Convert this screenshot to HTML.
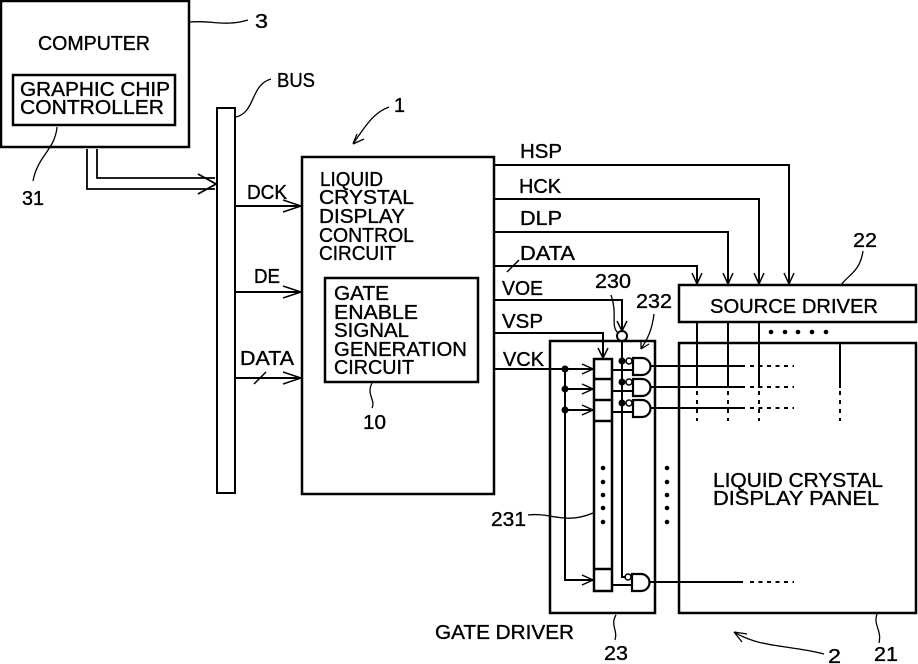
<!DOCTYPE html>
<html><head><meta charset="utf-8"><style>
html,body{margin:0;padding:0;background:#fff}
svg{display:block}
text{font-family:"Liberation Sans",sans-serif;font-size:20px;fill:#000;stroke:#000;stroke-width:.35}
</style></head><body>
<svg width="918" height="664" viewBox="0 0 918 664" xmlns="http://www.w3.org/2000/svg">
<g fill="none" stroke="#000" stroke-width="2">
<rect x="1" y="1" width="188" height="146" stroke-width="2.5"/>
<rect x="13" y="75" width="162" height="50" stroke-width="2.5"/>
<rect x="217" y="108" width="18" height="385"/>
<rect x="302" y="157" width="192" height="337" stroke-width="2.5"/>
<rect x="325" y="278" width="153" height="104" stroke-width="2.5"/>
<rect x="679" y="285" width="237" height="37" stroke-width="2.5"/>
<path d="M679 613V343H916V613Z" stroke-width="2.5"/>
<path d="M550 613V341H655V613Z" stroke-width="2.5"/>
<rect x="594" y="359" width="18" height="232" stroke-width="2.5"/>
<path d="M594 379H612M594 400H612M594 421H612M594 569H612" stroke-width="2.5"/>
<!-- bus input -->
<path d="M97 149V178H215M87 149V189H215M198 174L216 184L198 194" stroke-width="1.8"/>
<!-- left signals -->
<path d="M235 206H301M235 292H301M235 378H301"/>
<path d="M283 200L301 206L283 212M283 286L301 292L283 298M283 372L301 378L283 384" stroke-width="1.5"/>
<path d="M254 384L266 372" stroke-width="1.5"/>
<!-- top signals -->
<path d="M494 165H789V284M494 199H759V284M494 232H728V284M494 266H697V284"/>
<path d="M784 273L789 284L794 273M754 273L759 284L764 273M723 273L728 284L733 273M692 273L697 284L702 273" stroke-width="1.5"/>
<path d="M507 272L519 260" stroke-width="1.5"/>
<!-- VOE VSP VCK -->
<path d="M494 300H622V331M494 333H603V358M494 369H593"/>
<path d="M617 321L622 331L627 321M598 348L603 358L608 348" stroke-width="1.5"/>
<circle cx="622" cy="336" r="5"/>
<path d="M622 341V577H626"/>
<path d="M565 369V580H593M565 389H593M565 410H593"/>
<path d="M582 364L593 369L582 374M582 384L593 389L582 394M582 405L593 410L582 415M582 575L593 580L582 585" stroke-width="1.5"/>
<!-- gates -->
<path d="M633 358H642A8.500 8.500 0 0 1 642 375H633ZM633 379H642A8.500 8.500 0 0 1 642 396H633ZM633 400H642A8.500 8.500 0 0 1 642 417H633ZM632 574H641A8.500 8.500 0 0 1 641 591H632Z" stroke-width="2.2"/>
<circle cx="629" cy="361" r="3" stroke-width="1.5"/><circle cx="629" cy="382" r="3" stroke-width="1.5"/><circle cx="629" cy="403" r="3" stroke-width="1.5"/><circle cx="628" cy="577" r="3" stroke-width="1.5"/>
<path d="M612 370H633M612 391H633M612 412H633M612 585H632"/>
<path d="M651 366H745M651 387H745M651 408H745M650 582H743"/>
<path d="M750 366H794M750 387H794M750 408H794M750 582H794" stroke-dasharray="4 4.500"/>
<!-- source lines -->
<path d="M697 322V388M728 322V388M759 322V388M840 343V388"/>
<path d="M697 391V421M728 391V421M759 391V421M840 391V421" stroke-dasharray="4 5"/>
<!-- leaders -->
<path d="M190 22C210 20 225 27 248 20M236 117C256 112 250 85 271 79M57 127C55 150 38 155 33 181" stroke-width="1.3"/>
<path d="M389 107C372 113 363 130 353 144M353 144L357 134M353 144L364 139" stroke-width="1.3"/>
<path d="M372 383C366 395 376 400 372 408" stroke-width="1.3"/>
<path d="M841 285C848 275 860 272 863 251" stroke-width="1.3"/>
<path d="M611 295C618 315 610 325 618 333" stroke-width="1.3"/>
<path d="M654 314C652 330 648 338 641 349M641 349L641 341M641 349L649 344" stroke-width="1.3"/>
<path d="M528 515C550 512 565 525 593 513" stroke-width="1.3"/>
<path d="M616 615C610 625 618 630 615 640M877 614C873 625 882 630 879 643" stroke-width="1.3"/>
<path d="M824 654C790 645 760 648 734 632M734 632L747 634M734 632L742 642" stroke-width="1.3"/>
</g>
<!-- dots -->
<g fill="#000">
<circle cx="565" cy="369" r="3.500"/><circle cx="565" cy="389" r="3.500"/><circle cx="565" cy="410" r="3.500"/>
<circle cx="622" cy="361" r="3.500"/><circle cx="622" cy="382" r="3.500"/><circle cx="622" cy="403" r="3.500"/>
<circle cx="771" cy="332" r="2.300"/><circle cx="785" cy="332" r="2.300"/><circle cx="798" cy="332" r="2.300"/><circle cx="812" cy="332" r="2.300"/><circle cx="826" cy="332" r="2.300"/>
<circle cx="603" cy="468" r="2.300"/><circle cx="603" cy="482" r="2.300"/><circle cx="603" cy="495" r="2.300"/><circle cx="603" cy="508" r="2.300"/><circle cx="603" cy="522" r="2.300"/>
<circle cx="667" cy="468" r="2.300"/><circle cx="667" cy="482" r="2.300"/><circle cx="667" cy="495" r="2.300"/><circle cx="667" cy="508" r="2.300"/><circle cx="667" cy="522" r="2.300"/>
</g>
<!-- text -->
<text lengthAdjust="spacingAndGlyphs" x="38" y="50" textLength="112">COMPUTER</text>
<text lengthAdjust="spacingAndGlyphs" x="20" y="96" textLength="150">GRAPHIC CHIP</text>
<text lengthAdjust="spacingAndGlyphs" x="20" y="114" textLength="144">CONTROLLER</text>
<text lengthAdjust="spacingAndGlyphs" x="255" y="28" textLength="13">3</text>
<text lengthAdjust="spacingAndGlyphs" x="277" y="87" textLength="38">BUS</text>
<text lengthAdjust="spacingAndGlyphs" x="22" y="205" textLength="22">31</text>
<text lengthAdjust="spacingAndGlyphs" x="247" y="199" textLength="40">DCK</text>
<text lengthAdjust="spacingAndGlyphs" x="254" y="283" textLength="26">DE</text>
<text lengthAdjust="spacingAndGlyphs" x="240" y="365" textLength="54">DATA</text>
<text lengthAdjust="spacingAndGlyphs" x="394" y="112" textLength="11">1</text>
<text lengthAdjust="spacingAndGlyphs" x="320" y="186" textLength="63">LIQUID</text>
<text lengthAdjust="spacingAndGlyphs" x="319" y="204" textLength="95">CRYSTAL</text>
<text lengthAdjust="spacingAndGlyphs" x="319" y="223" textLength="86">DISPLAY</text>
<text lengthAdjust="spacingAndGlyphs" x="319" y="242" textLength="95">CONTROL</text>
<text lengthAdjust="spacingAndGlyphs" x="319" y="260" textLength="77">CIRCUIT</text>
<text lengthAdjust="spacingAndGlyphs" x="334" y="300" textLength="55">GATE</text>
<text lengthAdjust="spacingAndGlyphs" x="334" y="319" textLength="84">ENABLE</text>
<text lengthAdjust="spacingAndGlyphs" x="334" y="337" textLength="75">SIGNAL</text>
<text lengthAdjust="spacingAndGlyphs" x="334" y="356" textLength="133">GENERATION</text>
<text lengthAdjust="spacingAndGlyphs" x="334" y="374" textLength="80">CIRCUIT</text>
<text lengthAdjust="spacingAndGlyphs" x="363" y="429" textLength="23">10</text>
<text lengthAdjust="spacingAndGlyphs" x="520" y="158" textLength="42">HSP</text>
<text lengthAdjust="spacingAndGlyphs" x="519" y="193" textLength="42">HCK</text>
<text lengthAdjust="spacingAndGlyphs" x="520" y="225" textLength="42">DLP</text>
<text lengthAdjust="spacingAndGlyphs" x="520" y="260" textLength="55">DATA</text>
<text lengthAdjust="spacingAndGlyphs" x="502" y="295" textLength="41">VOE</text>
<text lengthAdjust="spacingAndGlyphs" x="502" y="328" textLength="41">VSP</text>
<text lengthAdjust="spacingAndGlyphs" x="503" y="366" textLength="41">VCK</text>
<text lengthAdjust="spacingAndGlyphs" x="595" y="288" textLength="36">230</text>
<text lengthAdjust="spacingAndGlyphs" x="636" y="308" textLength="36">232</text>
<text lengthAdjust="spacingAndGlyphs" x="853" y="247" textLength="24">22</text>
<text lengthAdjust="spacingAndGlyphs" x="710" y="313" textLength="168">SOURCE DRIVER</text>
<text lengthAdjust="spacingAndGlyphs" x="713" y="487" textLength="170">LIQUID CRYSTAL</text>
<text lengthAdjust="spacingAndGlyphs" x="713" y="505" textLength="166">DISPLAY PANEL</text>
<text lengthAdjust="spacingAndGlyphs" x="491" y="526" textLength="35">231</text>
<text lengthAdjust="spacingAndGlyphs" x="435" y="639" textLength="139">GATE DRIVER</text>
<text lengthAdjust="spacingAndGlyphs" x="604" y="660" textLength="24">23</text>
<text lengthAdjust="spacingAndGlyphs" x="828" y="663" textLength="13">2</text>
<text lengthAdjust="spacingAndGlyphs" x="874" y="661" textLength="24">21</text>
</svg>
</body></html>
